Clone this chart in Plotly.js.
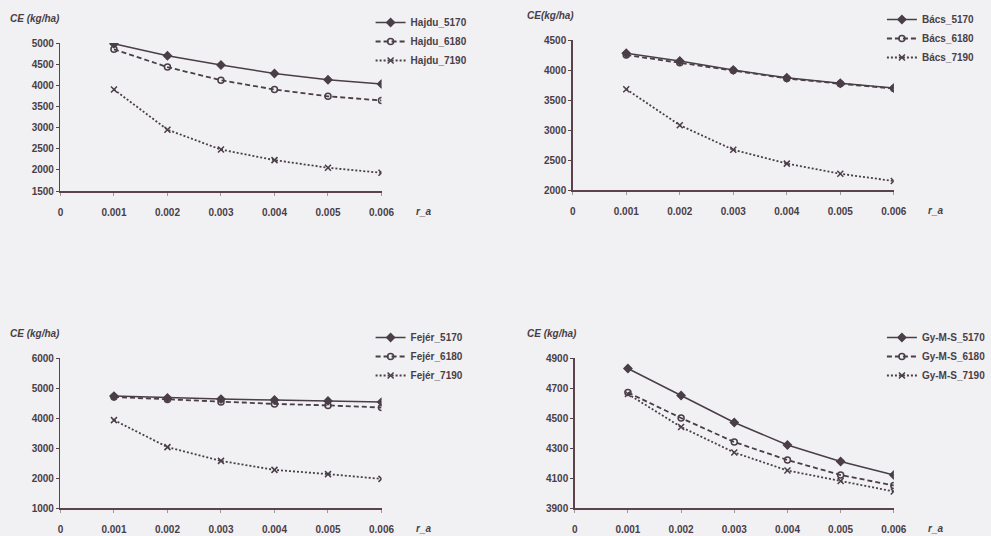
<!DOCTYPE html>
<html><head><meta charset="utf-8">
<script src="https://cdn.plot.ly/plotly-3.0.1.min.js"></script>
<style>html,body{margin:0;padding:0;background:#f1f1f3;overflow:hidden;width:991px;height:536px;}#chart{width:991px;height:536px;display:block;}</style>
</head><body><div id="chart"></div>
<script>
const rA = [0.001, 0.002, 0.003, 0.004, 0.005, 0.006];
const xTickVals = [0, 0.001, 0.002, 0.003, 0.004, 0.005, 0.006];
const xTickText = ["0", "0.001", "0.002", "0.003", "0.004", "0.005", "0.006"];

const hajdu5170 = [4980, 4700, 4480, 4280, 4130, 4030];
const hajdu6180 = [4850, 4430, 4120, 3900, 3740, 3640];
const hajdu7190 = [3900, 2950, 2480, 2230, 2050, 1930];

const bacs5170 = [4280, 4150, 4000, 3870, 3780, 3700];
const bacs6180 = [4250, 4120, 3990, 3860, 3770, 3690];
const bacs7190 = [3680, 3080, 2670, 2440, 2270, 2150];

const fejer5170 = [4730, 4670, 4630, 4600, 4570, 4530];
const fejer6180 = [4700, 4620, 4530, 4470, 4420, 4350];
const fejer7190 = [3930, 3030, 2570, 2270, 2130, 1970];

const gyms5170 = [4830, 4650, 4470, 4320, 4210, 4120];
const gyms6180 = [4670, 4500, 4340, 4220, 4120, 4050];
const gyms7190 = [4660, 4440, 4270, 4150, 4080, 4010];

const panels = [
  {names: ["Hajdu_5170", "Hajdu_6180", "Hajdu_7190"], data: [hajdu5170, hajdu6180, hajdu7190], yr: [1500, 5000], dt: 500, ytitle: "CE (kg/ha)"},
  {names: ["Bács_5170", "Bács_6180", "Bács_7190"], data: [bacs5170, bacs6180, bacs7190], yr: [2000, 4500], dt: 500, ytitle: "CE(kg/ha)"},
  {names: ["Fejér_5170", "Fejér_6180", "Fejér_7190"], data: [fejer5170, fejer6180, fejer7190], yr: [1000, 6000], dt: 1000, ytitle: "CE (kg/ha)"},
  {names: ["Gy-M-S_5170", "Gy-M-S_6180", "Gy-M-S_7190"], data: [gyms5170, gyms6180, gyms7190], yr: [3900, 4900], dt: 200, ytitle: "CE (kg/ha)"}
];

const W = 991, H = 536;
const ink = "#4a3e47";
const axisInk = "#5b434c";
const fontFam = "'Liberation Sans Narrow', 'Liberation Sans', Arial, sans-serif";
// pixel boxes [x0, x1, yTop, yBottom]
const boxes = [[61, 385, 43, 191], [578, 902, 40, 190], [61, 385, 358, 508], [580, 902, 358, 508]];
const styles = [
  {dash: "solid", sym: "diamond", w: 1.5},
  {dash: "5px,3px", sym: "circle-open", w: 1.8},
  {dash: "2px,2px", sym: "x-thin-open", w: 1.8}
];

const traces = [];
const layout = {
  width: W, height: H, autosize: false,
  margin: {l: 0, r: 0, t: 0, b: 0},
  paper_bgcolor: "#f1f1f3", plot_bgcolor: "#f1f1f3",
  font: {family: fontFam, color: ink, size: 10, weight: "bold"},
  annotations: [], showlegend: true
};

panels.forEach((p, i) => {
  const k = i + 1;
  const b = boxes[i];
  const sfx = (k === 1 ? "" : String(k));
  const xa = "xaxis" + sfx, ya = "yaxis" + sfx;
  const lg = "legend" + sfx;
  p.data.forEach((d, j) => {
    traces.push({
      x: rA, y: d, name: p.names[j], type: "scatter", mode: "lines+markers",
      xaxis: "x" + sfx, yaxis: "y" + sfx,
      legend: lg,
      line: {color: ink, width: styles[j].w, dash: styles[j].dash},
      marker: {symbol: styles[j].sym, size: 6, color: ink, line: {color: ink, width: 1.5}}
    });
  });
  const yt = [];
  for (let v = p.yr[0]; v <= p.yr[1] + 1e-9; v += p.dt) yt.push(v);
  layout[xa] = {
    domain: [b[0] / W, b[1] / W], range: [0, 0.006], anchor: "y" + sfx,
    tickvals: xTickVals, ticktext: xTickText, showgrid: false, zeroline: false,
    showline: true, linecolor: axisInk, linewidth: 1.5, ticks: "outside", ticklen: 3, tickcolor: "#9a9a9a",
    ticklabelstandoff: 8, tickfont: {size: 10, family: fontFam, color: ink, weight: "bold"}
  };
  layout[ya] = {
    domain: [1 - b[3] / H, 1 - b[2] / H], range: p.yr, anchor: "x" + sfx,
    tickvals: yt, showgrid: false, zeroline: false,
    showline: true, linecolor: axisInk, linewidth: 1.5, ticks: "outside", ticklen: 3, tickcolor: axisInk,
    tickfont: {size: 10, family: fontFam, color: ink, weight: "bold"}
  };
  layout[lg] = {
    x: (b[0] === 61 ? 374 : 890) / W, xanchor: "left",
    y: 1 - (b[2] - 35) / H, yanchor: "top",
    bgcolor: "rgba(0,0,0,0)", font: {size: 10, family: fontFam, color: ink, weight: "bold"},
    itemwidth: 30, tracegroupgap: 0
  };
  layout.annotations.push({
    xref: "paper", yref: "paper", x: (b[0] === 61 ? 8 : 530) / W, y: 1 - (b[2] - 25) / H,
    xanchor: "left", yanchor: "middle", showarrow: false, text: "<i>" + p.ytitle + "</i>",
    font: {size: 10, family: fontFam, color: ink, weight: "bold"}
  });
  layout.annotations.push({
    xref: "paper", yref: "paper", x: (b[1] + 42) / W, y: 1 - (b[3] + 20) / H,
    xanchor: "center", yanchor: "middle", showarrow: false, text: "<i>r_a</i>",
    font: {size: 10, family: fontFam, color: ink, weight: "bold"}
  });
});

Plotly.newPlot("chart", traces, layout, {displayModeBar: false, staticPlot: true});
</script></body></html>
